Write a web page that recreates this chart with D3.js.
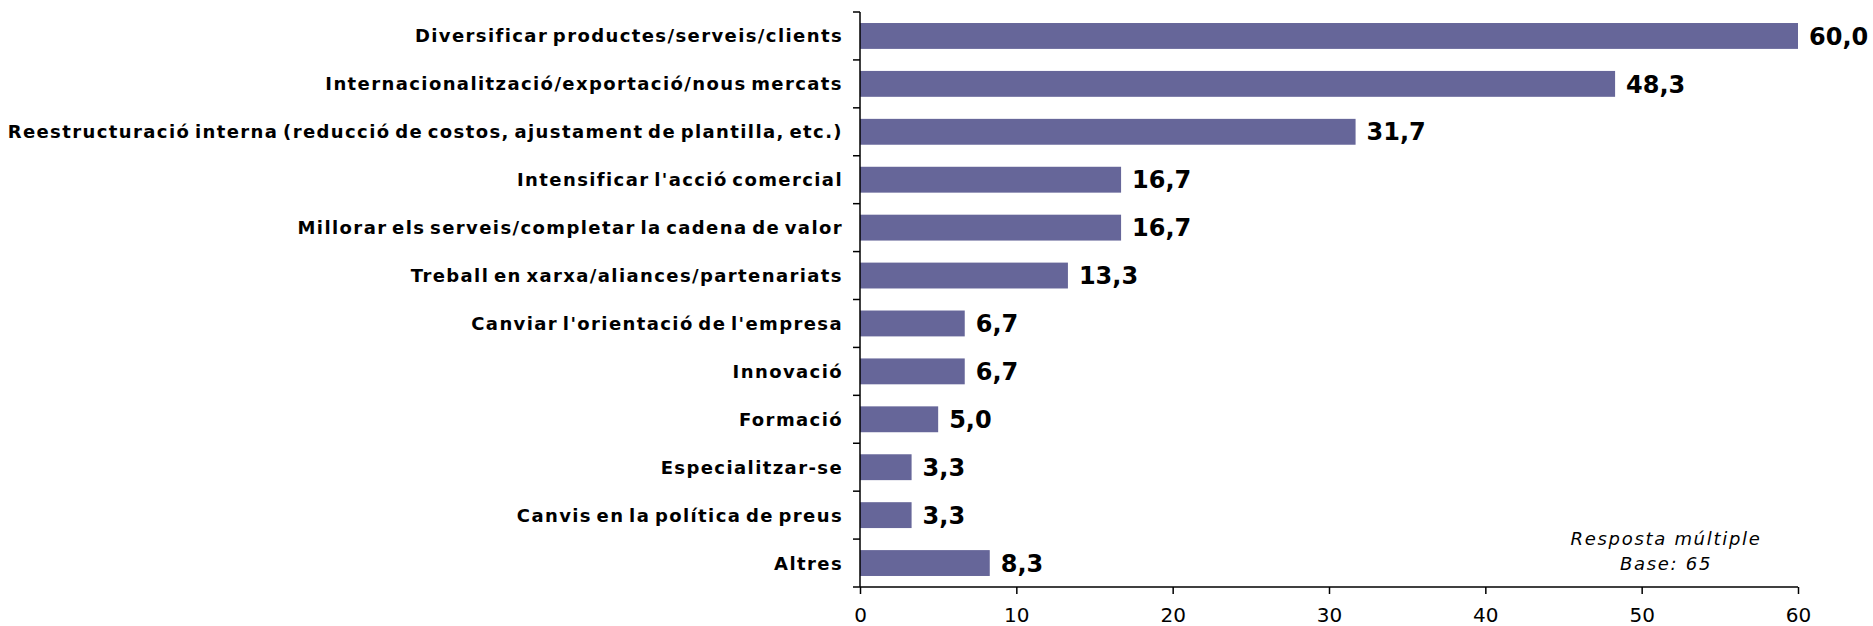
<!DOCTYPE html>
<html><head><meta charset="utf-8">
<script src="https://cdn.jsdelivr.net/npm/d3@7"></script>
<style>body{margin:0;background:#fff}</style>
</head><body><svg id="c" width="1873" height="626"></svg>
<script>
const categories = [
  "Diversificar productes/serveis/clients",
  "Internacionalització/exportació/nous mercats",
  "Reestructuració interna (reducció de costos, ajustament de plantilla, etc.)",
  "Intensificar l'acció comercial",
  "Millorar els serveis/completar la cadena de valor",
  "Treball en xarxa/aliances/partenariats",
  "Canviar l'orientació de l'empresa",
  "Innovació",
  "Formació",
  "Especialitzar-se",
  "Canvis en la política de preus",
  "Altres"
];
const values = [60.0, 48.3, 31.7, 16.7, 16.7, 13.3, 6.7, 6.7, 5.0, 3.3, 3.3, 8.3];
const xTicks = [0, 10, 20, 30, 40, 50, 60];
const noteLines = ["Resposta múltiple", "Base: 65"];

const svg = d3.select("#c");
const mLeft = 860, mRight = 1798, mTop = 12, mBottom = 587;
const x = d3.scaleLinear().domain([0, 60]).range([mLeft, mRight]);
const y = d3.scaleBand().domain(categories).range([mTop, mBottom]).paddingInner(0.46).paddingOuter(0.23);

svg.selectAll("rect.bar").data(values).join("rect")
  .attr("x", x(0)).attr("y", (d,i)=>y(categories[i]))
  .attr("width", d=>x(d)-x(0)).attr("height", y.bandwidth())
  .attr("fill", "#666699");

const g = svg.append("g").attr("stroke", "#000").attr("stroke-width", 1.5);
g.append("line").attr("x1", mLeft).attr("x2", mLeft).attr("y1", mTop).attr("y2", mBottom);
const bounds = d3.range(categories.length + 1).map(i => mTop + i * y.step());
g.selectAll("line.yt").data(bounds).join("line")
  .attr("x1", mLeft - 7).attr("x2", mLeft).attr("y1", d=>d).attr("y2", d=>d);

const xa = svg.append("g").attr("transform", `translate(0,${mBottom})`)
  .call(d3.axisBottom(x).tickValues(xTicks).tickSize(7).tickPadding(14).tickFormat(d3.format("d")));
xa.select(".domain").attr("stroke-width", 1.5).attr("d", `M${mLeft},0H${mRight}`);
xa.selectAll(".tick line").attr("stroke-width", 1.5);
xa.selectAll("text").attr("font-family", "DejaVu Sans").attr("font-size", 20).attr("fill", "#000");

svg.selectAll("text.cat").data(categories).join("text")
  .attr("x", mLeft - 17).attr("y", d=>y(d)+y.bandwidth()/2)
  .attr("dy", "0.36em").attr("text-anchor", "end")
  .attr("font-family", "DejaVu Sans").attr("font-weight", "bold")
  .attr("font-size", 18).attr("letter-spacing", "1.4px").attr("word-spacing", "-3px")
  .text(d=>d);

svg.selectAll("text.val").data(values).join("text")
  .attr("x", d=>x(d)+11).attr("y", (d,i)=>y(categories[i])+y.bandwidth()/2)
  .attr("dy", "0.36em")
  .attr("font-family", "DejaVu Sans").attr("font-weight", "bold")
  .attr("font-size", 24)
  .text(d=>d3.format(".1f")(d).replace(".", ","));

svg.selectAll("text.note").data(noteLines).join("text")
  .attr("x", 1666).attr("y", (d,i)=>545 + i*25)
  .attr("text-anchor", "middle").attr("font-family", "DejaVu Sans")
  .attr("font-style", "italic").attr("font-size", 18).attr("letter-spacing", "1.7px")
  .text(d=>d);
</script></body></html>
